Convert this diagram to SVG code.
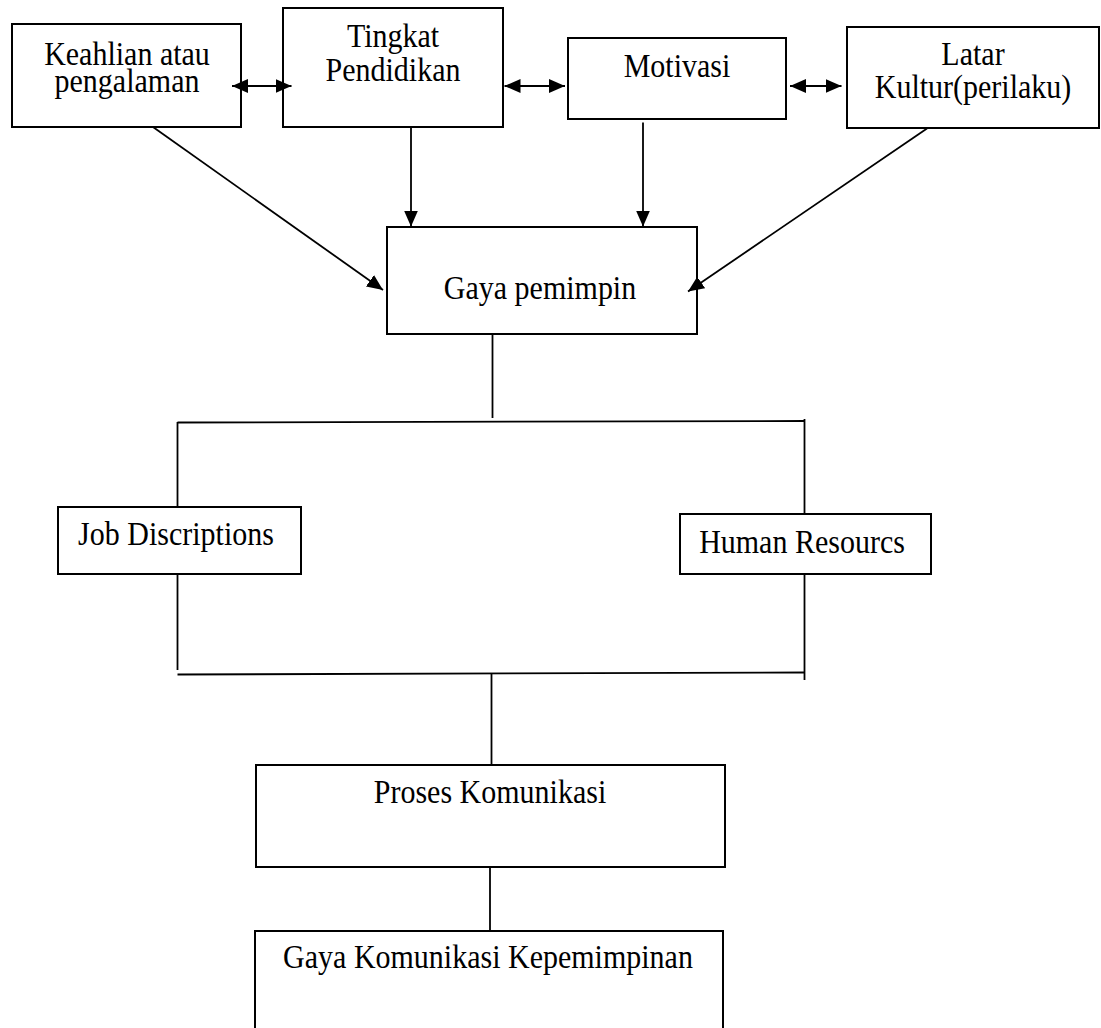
<svg xmlns="http://www.w3.org/2000/svg" width="1101" height="1028" viewBox="0 0 1101 1028">
<style>
.box{fill:#fff;stroke:#000;stroke-width:2}
.t{font-family:"Liberation Serif","Times New Roman",serif;font-size:30px;fill:#000;text-anchor:middle}
.c{stroke:#000;stroke-width:1.8;fill:none}
</style>
<defs>
<marker id="ah" markerUnits="userSpaceOnUse" markerWidth="16" markerHeight="14" refX="16" refY="7" orient="auto-start-reverse">
<path d="M0,0 L16,7 L0,14 z" fill="#000"/>
</marker>
</defs>
<rect width="1101" height="1028" fill="#fff"/>
<g id="keahlian"><rect class="box" x="12" y="24" width="229" height="103"/><text class="t" transform="translate(127 65) scale(1 1.12)">Keahlian atau</text><text class="t" transform="translate(127 92) scale(1 1.12)">pengalaman</text></g>
<g id="tingkat"><rect class="box" x="283" y="8" width="220" height="119"/><text class="t" transform="translate(393 47) scale(1 1.12)">Tingkat</text><text class="t" transform="translate(393 81) scale(1 1.12)">Pendidikan</text></g>
<g id="motivasi"><rect class="box" x="568" y="38" width="218" height="81"/><text class="t" transform="translate(677 77) scale(1 1.12)">Motivasi</text></g>
<g id="latar"><rect class="box" x="847" y="27" width="252" height="101"/><text class="t" transform="translate(973 65) scale(1 1.12)">Latar</text><text class="t" transform="translate(973 98) scale(1 1.12)">Kultur(perilaku)</text></g>
<g id="gaya-pemimpin"><rect class="box" x="387" y="227" width="310" height="107"/><text class="t" transform="translate(540 299) scale(1 1.12)">Gaya pemimpin</text></g>
<g id="job"><rect class="box" x="58" y="507" width="243" height="67"/><text class="t" transform="translate(176 545) scale(1 1.12)">Job Discriptions</text></g>
<g id="human"><rect class="box" x="680" y="514" width="251" height="60"/><text class="t" transform="translate(802 553) scale(1 1.12)">Human Resourcs</text></g>
<g id="proses"><rect class="box" x="256" y="765" width="469" height="102"/><text class="t" transform="translate(490 803) scale(1 1.12)">Proses Komunikasi</text></g>
<g id="gaya-komunikasi"><rect class="box" x="255" y="931" width="468" height="120"/><text class="t" transform="translate(488 968) scale(1 1.12)">Gaya Komunikasi Kepemimpinan</text></g>
<g id="connectors">
<line class="c" x1="232" y1="86" x2="291.5" y2="86" marker-start="url(#ah)" marker-end="url(#ah)"/>
<line class="c" x1="504.5" y1="86" x2="565" y2="86" marker-start="url(#ah)" marker-end="url(#ah)"/>
<line class="c" x1="790" y1="86" x2="841.5" y2="86" marker-start="url(#ah)" marker-end="url(#ah)"/>
<line class="c" x1="411" y1="127" x2="411" y2="226.5" marker-end="url(#ah)"/>
<line class="c" x1="643" y1="122.5" x2="643" y2="226.5" marker-end="url(#ah)"/>
<line class="c" x1="153" y1="127" x2="383" y2="290" marker-end="url(#ah)"/>
<line class="c" x1="927" y1="128.5" x2="688" y2="291.5" marker-end="url(#ah)"/>
<line class="c" x1="492.5" y1="334" x2="492.5" y2="418"/>
<line class="c" x1="177.5" y1="422.5" x2="804.5" y2="421"/>
<line class="c" x1="177.5" y1="422" x2="177.5" y2="507"/>
<line class="c" x1="804.5" y1="419" x2="804.5" y2="514"/>
<line class="c" x1="177.5" y1="574" x2="177.5" y2="670"/>
<line class="c" x1="804.5" y1="574" x2="804.5" y2="680"/>
<line class="c" x1="177.5" y1="674.5" x2="804.5" y2="672.5"/>
<line class="c" x1="491.5" y1="673" x2="491.5" y2="765"/>
<line class="c" x1="490" y1="867" x2="490" y2="931"/>
</g>
</svg>
